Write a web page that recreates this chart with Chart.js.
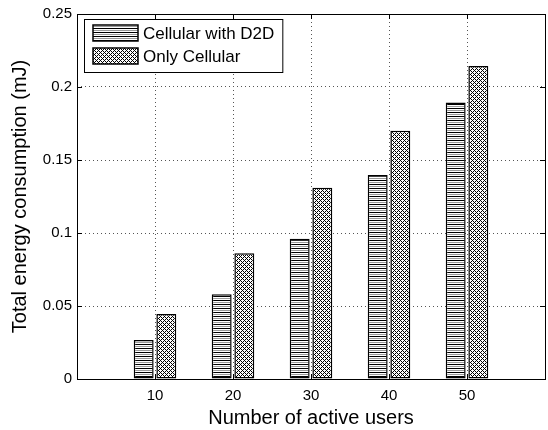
<!DOCTYPE html>
<html><head><meta charset="utf-8">
<script src="https://cdn.jsdelivr.net/npm/chart.js@4"></script>
<style>html,body{margin:0;padding:0;background:#fff}#wrap{width:548px;height:430px;position:relative}</style>
</head><body><div id="wrap"><canvas id="c" width="548" height="430"></canvas></div>
<script>
const users = [10, 20, 30, 40, 50];
const withD2D = [0.0267, 0.058, 0.0961, 0.1397, 0.1893];
const onlyCellular = [0.0445, 0.0861, 0.131, 0.170, 0.2144];
const seriesLabels = ['Cellular with D2D', 'Only Cellular'];
const yTicks = [0, 0.05, 0.1, 0.15, 0.2, 0.25];
const yTickLabels = ['0', '0.05', '0.1', '0.15', '0.2', '0.25'];
const xTitle = 'Number of active users';
const yTitle = 'Total energy consumption (mJ)';

const FONT = "'Liberation Sans', Arial, Helvetica, sans-serif";
const canvas = document.getElementById('c');
const ctx = canvas.getContext('2d');

function makeHLines() {
  const c = document.createElement('canvas'); c.width = 4; c.height = 4;
  const g = c.getContext('2d');
  g.fillStyle = '#fff'; g.fillRect(0, 0, 4, 4);
  g.fillStyle = '#000'; g.fillRect(0, 0, 4, 1);
  g.fillStyle = '#999'; g.fillRect(0, 2, 4, 1);
  return ctx.createPattern(c, 'repeat');
}
function makeCross() {
  const c = document.createElement('canvas'); c.width = 4; c.height = 4;
  const g = c.getContext('2d');
  g.fillStyle = '#fff'; g.fillRect(0, 0, 4, 4);
  g.fillStyle = '#000';
  for (let x = 0; x < 4; x++) for (let y = 0; y < 4; y++) {
    if ((x + y) % 4 === 0 || ((x - y + 4) % 4) === 0) g.fillRect(x, y, 1, 1);
  }
  return ctx.createPattern(c, 'repeat');
}
const patD2D = makeHLines();
const patCell = makeCross();

const boxPlugin = {
  id: 'boxPlugin',
  afterDraw(chart) {
    const a = chart.chartArea;
    const g = chart.ctx;
    const xs = chart.scales.x, ys = chart.scales.y;
    g.save();
    g.strokeStyle = '#000'; g.lineWidth = 1;
    g.strokeRect(Math.round(a.left) + 0.5, Math.round(a.top) + 0.5, Math.round(a.right - a.left), Math.round(a.bottom - a.top));
    g.beginPath();
    users.forEach(v => {
      const px = Math.round(xs.getPixelForValue(v)) + 0.5;
      g.moveTo(px, a.bottom); g.lineTo(px, a.bottom - 5);
      g.moveTo(px, a.top); g.lineTo(px, a.top + 5);
    });
    yTicks.forEach(v => {
      const py = Math.round(ys.getPixelForValue(v)) + 0.5;
      g.moveTo(a.left, py); g.lineTo(a.left + 5, py);
      g.moveTo(a.right, py); g.lineTo(a.right - 5, py);
    });
    g.stroke();
    // legend
    const lx = Math.round(a.left) + 7, ly = Math.round(a.top) + 5;
    g.font = '17px ' + FONT;
    const tw = Math.max(...seriesLabels.map(s => g.measureText(s).width));
    const w = 59 + tw + 8, h = 53;
    g.fillStyle = '#fff'; g.fillRect(lx, ly, w, h);
    g.strokeStyle = '#000'; g.lineWidth = 1;
    g.strokeRect(lx + 0.5, ly + 0.5, w, h);
    chart.data.datasets.forEach((ds, i) => {
      const sy = ly + 6 + i * 23;
      g.fillStyle = ds.backgroundColor; g.fillRect(lx + 9, sy, 45, 16);
      g.strokeStyle = '#000'; g.lineWidth = 1.5; g.strokeRect(lx + 9, sy, 45, 16);
      g.fillStyle = '#000'; g.textBaseline = 'middle'; g.textAlign = 'left';
      g.fillText(ds.label, lx + 59, sy + 9);
    });
    g.restore();
  }
};

new Chart(canvas, {
  type: 'bar',
  data: {
    datasets: [
      { label: seriesLabels[0], data: users.map((u, i) => ({ x: u, y: withD2D[i] })), backgroundColor: patD2D, borderColor: '#000', borderWidth: 1.5, borderSkipped: false },
      { label: seriesLabels[1], data: users.map((u, i) => ({ x: u, y: onlyCellular[i] })), backgroundColor: patCell, borderColor: '#000', borderWidth: 1.5, borderSkipped: false }
    ]
  },
  options: {
    responsive: false, animation: false, devicePixelRatio: 1,
    layout: { padding: { top: 14, right: 3, left: 0, bottom: 0 } },
    plugins: { legend: { display: false }, tooltip: { enabled: false } },
    datasets: { bar: { categoryPercentage: 0.58, barPercentage: 0.88 } },
    scales: {
      x: {
        type: 'linear', min: 0, max: 60, offset: false,
        afterBuildTicks: s => { s.ticks = users.map(v => ({ value: v })); },
        afterFit: s => { s.height = 51; },
        grid: { color: '#555', lineWidth: 1, drawTicks: false, offset: false },
        border: { display: false, dash: [1, 3] },
        ticks: { color: '#000', font: { family: FONT, size: 15 }, padding: 8, callback: v => String(v) },
        title: { display: true, text: xTitle, color: '#000', font: { family: FONT, size: 20 }, padding: { top: 0, bottom: 0 } }
      },
      y: {
        min: 0, max: 0.25,
        afterBuildTicks: s => { s.ticks = yTicks.map(v => ({ value: v })); },
        afterFit: s => { s.width = 77; },
        grid: { color: c => (c.tick && (c.tick.value === 0 || c.tick.value === 0.25)) ? 'rgba(0,0,0,0)' : '#555', lineWidth: 1, drawTicks: false },
        border: { display: false, dash: [1, 3] },
        ticks: { color: '#000', font: { family: FONT, size: 15 }, padding: 5, callback: (v, i) => yTickLabels[i] },
        title: { display: true, text: yTitle, color: '#000', font: { family: FONT, size: 20 }, padding: { top: 8, bottom: 4 } }
      }
    }
  },
  plugins: [boxPlugin]
});
</script>
</body></html>
